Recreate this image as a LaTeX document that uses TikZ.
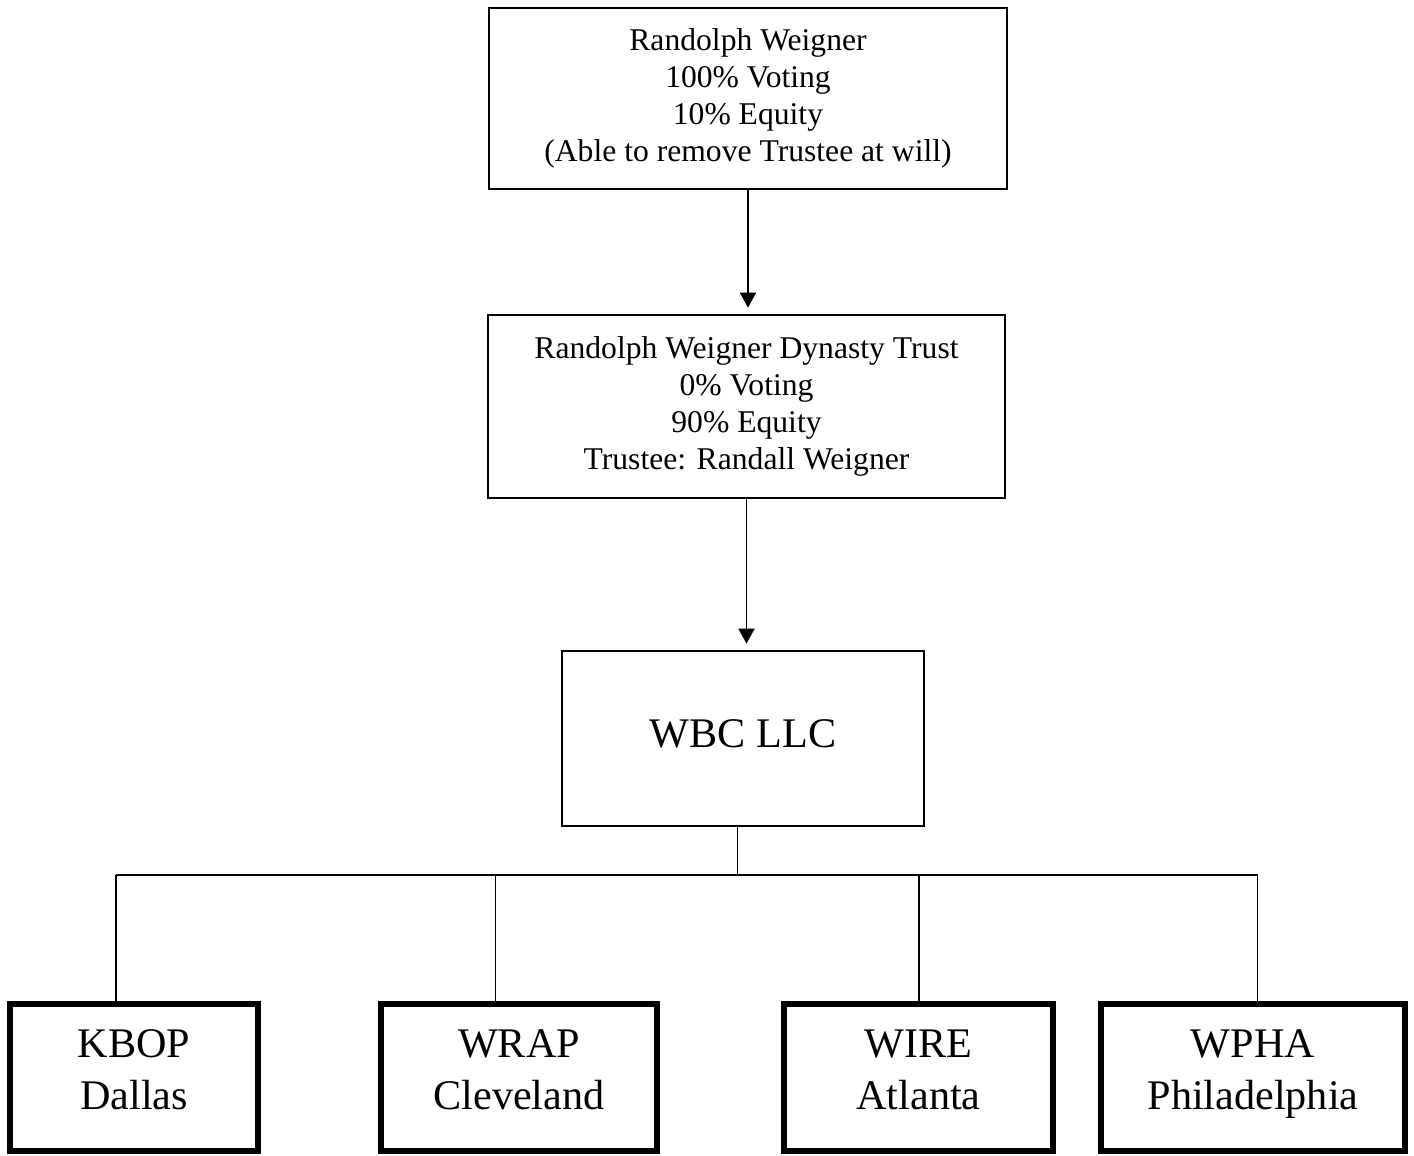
\documentclass[tikz,border=0pt]{standalone}
\usepackage{fontspec}
\setmainfont{Liberation Serif}
\usetikzlibrary{arrows.meta}

\tikzset{
    ownerbox/.style={draw, line width=1.6pt, align=center, inner sep=0pt,
        font=\fontsize{18}{21}\selectfont},
    stationbox/.style={draw, line width=3.2pt, align=center, inner sep=0pt,
        text depth=0.32cm, font=\fontsize{24}{29.5}\selectfont},
    link/.style={line width=1.1pt},
    owns/.style={link, -{Triangle[width=0.32cm, length=0.3cm]}, shorten >=0.12cm}
}

\begin{document}
\begin{tikzpicture}
    \useasboundingbox (0,0) rectangle (28.28,-23.12);
    % Owner
    \node[ownerbox, minimum width=10.36cm, minimum height=3.62cm] (owner) at (14.96,-1.97)
        {Randolph Weigner\\100\% Voting\\10\% Equity\\(Able to remove Trustee at will)};
    % Trust
    \node[ownerbox, minimum width=10.34cm, minimum height=3.66cm] (trust) at (14.93,-8.13)
        {Randolph Weigner Dynasty Trust\\0\% Voting\\90\% Equity\\Trustee: Randall Weigner};
    % Company
    \node[ownerbox, font=\fontsize{24}{29}\selectfont, text depth=0.2cm,
        minimum width=7.24cm, minimum height=3.5cm] (wbc) at (14.86,-14.77) {WBC LLC};
    % Stations
    \node[stationbox, minimum width=4.96cm, minimum height=2.94cm] (kbop) at (2.68,-21.55) {KBOP\\Dallas};
    \node[stationbox, minimum width=5.52cm, minimum height=2.94cm] (wrap) at (10.38,-21.55) {WRAP\\Cleveland};
    \node[stationbox, minimum width=5.38cm, minimum height=2.94cm] (wire) at (18.37,-21.55) {WIRE\\Atlanta};
    \node[stationbox, minimum width=6.08cm, minimum height=2.94cm] (wpha) at (25.06,-21.55) {WPHA\\Philadelphia};
    % Arrows
    \draw[owns] (owner.south) -- (owner.south |- trust.north);
    \draw[owns] (trust.south) -- (trust.south |- wbc.north);
    % Bus
    \coordinate (stem) at (14.75,-17.5);
    \coordinate (b1) at (2.32,-17.5);
    \coordinate (b2) at (9.91,-17.5);
    \coordinate (b3) at (18.38,-17.5);
    \coordinate (b4) at (25.15,-17.5);
    \draw[link] (stem |- wbc.south) -- (stem);
    \draw[link] (b1) -- (b4);
    \draw[link] (b1) -- (b1 |- kbop.north);
    \draw[link] (b2) -- (b2 |- wrap.north);
    \draw[link] (b3) -- (b3 |- wire.north);
    \draw[link] (b4) -- (b4 |- wpha.north);
\end{tikzpicture}
\end{document}
